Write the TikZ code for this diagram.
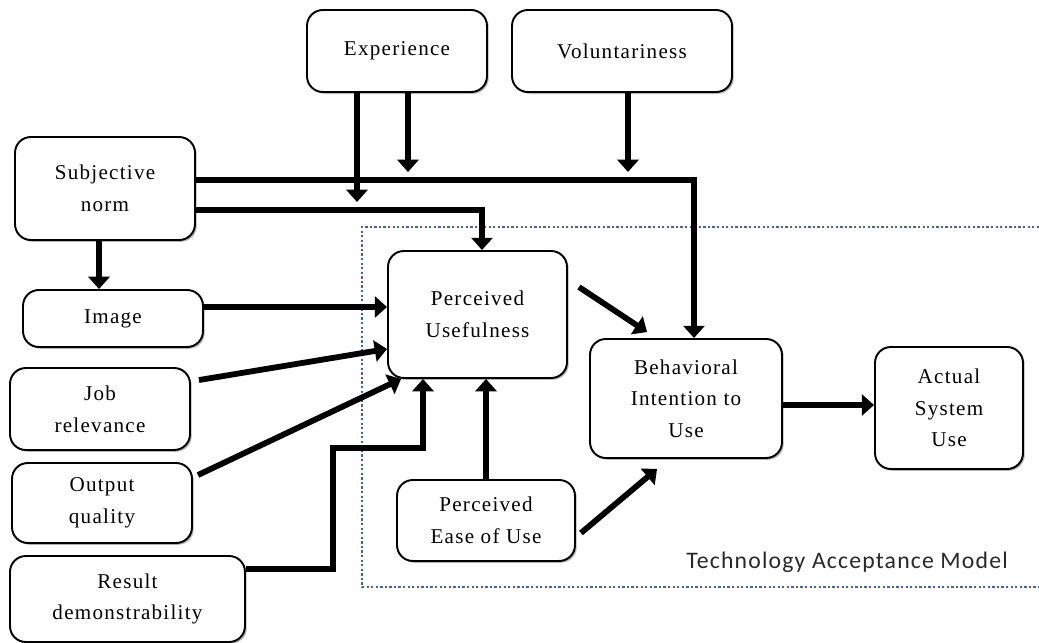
\documentclass[tikz,border=0pt]{standalone}
\usepackage{fontspec}
\setmainfont{Liberation Serif}[LetterSpace=6]
\newfontfamily\tamfont{Carlito}[LetterSpace=5]
\usetikzlibrary{arrows.meta,shadows}
\definecolor{tamblue}{RGB}{70,100,150}
\definecolor{labelgray}{RGB}{40,40,40}

\begin{document}
\begin{tikzpicture}[x=0.02cm,y=-0.02cm,
    box/.style={draw,line width=1.1pt,rounded corners=9pt,fill=white,align=center,
        font=\fontsize{12}{18}\selectfont,inner sep=2pt,
        drop shadow={shadow xshift=1pt,shadow yshift=-1pt,fill=black!60}},
    arr/.style={line width=3.3pt,-{Triangle[width=12pt,length=7pt]}}]
    \useasboundingbox (0,0) rectangle (1039,643);

    % TAM frame
    \draw[tamblue,line width=1.2pt,dash pattern=on 1.3pt off 1.3pt]
        (1039,227) -- (362,227) -- (362,587) -- (1039,587);
    \node[font={\tamfont\fontsize{13.5}{16}\selectfont},text=labelgray] (tamlabel) at (847,562) {Technology Acceptance Model};

    % Moderators
    \node[box,minimum width=3.6cm,minimum height=1.64cm] (exper) at (397,51) {Experience};
    \node[box,minimum width=4.4cm,minimum height=1.64cm] (volun) at (622,51) {Voluntariness};

    % Antecedents
    \node[box,minimum width=3.6cm,minimum height=2.06cm] (subj) at (105,188.5) {Subjective\\norm};
    \node[box,minimum width=3.6cm,minimum height=1.14cm] (image) at (113,318.5) {Image};
    \node[box,minimum width=3.6cm,minimum height=1.64cm] (jobrel) at (100,409) {Job\\relevance};
    \node[box,minimum width=3.6cm,minimum height=1.6cm] (output) at (102,503) {Output\\quality};
    \node[box,minimum width=4.7cm,minimum height=1.72cm] (result) at (127.5,599) {Result\\demonstrability};

    % TAM constructs
    \node[box,minimum width=3.58cm,minimum height=2.54cm] (pu) at (477.5,314.5) {Perceived\\Usefulness};
    \node[box,minimum width=3.56cm,minimum height=1.62cm] (peou) at (486,520.5) {Perceived\\Ease of Use};
    \node[box,minimum width=3.84cm,minimum height=2.38cm] (bi) at (686,398.5) {Behavioral\\Intention to\\Use};
    \node[box,minimum width=2.96cm,minimum height=2.44cm] (asu) at (949,408) {Actual\\System\\Use};

    % Moderator arrows
    \coordinate (modA) at (357,202);
    \coordinate (modB) at (408,172);
    \coordinate (modC) at (628,172);
    \draw[arr] (exper.south -| modA) -- (modA);
    \draw[arr] (exper.south -| modB) -- (modB);
    \draw[arr] (volun.south -| modC) -- (modC);

    % Subjective norm
    \draw[arr] ([yshift=0.17cm]subj.east) -| ([xshift=0.16cm]bi.north);
    \draw[arr] ([yshift=-0.43cm]subj.east) -| ([xshift=0.09cm]pu.north);
    \draw[arr] ([xshift=-0.12cm]subj.south) -- ([xshift=-0.12cm]subj.south |- image.north);

    % Into perceived usefulness
    \draw[arr] ([yshift=0.23cm]image.east) -- ([yshift=0.23cm]image.east -| pu.west);
    \draw[arr] ([xshift=0.16cm,yshift=-0.26cm]jobrel.north east) -- ([yshift=0.6cm]pu.south west);
    \draw[arr] ([xshift=0.1cm,yshift=-0.26cm]output.north east) -- ([xshift=0.28cm]pu.south west);
    \draw[arr] ([yshift=0.6cm]result.east) -| (333,448) -| ([xshift=-1.09cm]pu.south);
    \draw[arr] (peou.north) -- (peou.north |- pu.south);

    % Core model
    \draw[arr] ([xshift=0.22cm,yshift=-0.74cm]pu.north east) -- ([xshift=1.16cm,yshift=0.12cm]bi.north west);
    \draw[arr] ([xshift=0.1cm,yshift=-0.25cm]peou.east) -- ([xshift=1.36cm,yshift=-0.2cm]bi.south west);
    \draw[arr] ([yshift=-0.13cm]bi.east) -- ([yshift=-0.13cm]bi.east -| asu.west);
\end{tikzpicture}
\end{document}
